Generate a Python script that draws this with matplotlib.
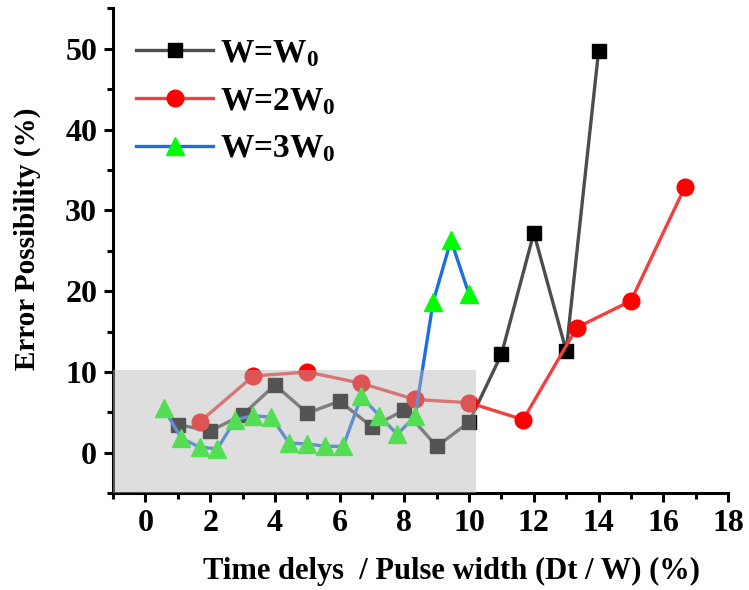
import matplotlib
matplotlib.use("Agg")
import matplotlib.pyplot as plt
from matplotlib.ticker import MultipleLocator
from matplotlib.patches import Rectangle

plt.rcParams['font.family'] = ['Liberation Serif', 'DejaVu Serif']
plt.rcParams['font.weight'] = 'bold'
plt.rcParams['mathtext.fontset'] = 'custom'
plt.rcParams['mathtext.rm'] = 'Liberation Serif:bold'
plt.rcParams['mathtext.bf'] = 'Liberation Serif:bold'

# W = W0
x1 = [1, 2, 3, 4, 5, 6, 7, 8, 9, 10, 11, 12, 13, 14]
y1 = [3.5, 2.7, 4.7, 8.4, 4.9, 6.4, 3.2, 5.3, 0.8, 3.8, 12.2, 27.2, 12.6, 49.7]

# W = 2W0
x2 = [1.67, 3.33, 5.0, 6.67, 8.33, 10.0, 11.67, 13.33, 15.0, 16.67]
y2 = [3.8, 9.5, 10.0, 8.6, 6.6, 6.2, 4.1, 15.5, 18.8, 32.9]

# W = 3W0
x3 = [0.56, 1.11, 1.67, 2.22, 2.78, 3.33, 3.89, 4.44, 5.0, 5.56, 6.11, 6.67,
      7.22, 7.78, 8.33, 8.89, 9.44, 10.0]
y3 = [5.5, 1.8, 0.7, 0.5, 4.1, 4.6, 4.4, 1.2, 1.1, 0.8, 0.8, 7.0,
      4.6, 2.3, 4.5, 18.7, 26.3, 19.6]

fig = plt.figure(figsize=(7.49, 5.90), dpi=100)
ax = fig.add_axes([0.151, 0.164, 0.821, 0.822])

ax.plot(x1, y1, color='#4d4d4d', lw=2.4, marker='s', ms=10,
        mfc='black', mec='black', label=r'W=W$\mathregular{_0}$')
ax.plot(x2, y2, color='#f04040', lw=2.4, marker='o', ms=12,
        mfc='red', mec='red', label=r'W=2W$\mathregular{_0}$')
ax.plot(x3, y3, color='#1c6fde', lw=2.4, marker='^', ms=13,
        mfc='#00ff00', mec='#00ff00', label=r'W=3W$\mathregular{_0}$')

# shaded low-error zone
ax.add_patch(Rectangle((-1, -5), 11.2, 15.3, facecolor='#b8b8b8',
                       alpha=0.46, edgecolor='none', zorder=5))

ax.set_xlim(-1, 18)
ax.set_ylim(-5, 55)
ax.xaxis.set_major_locator(MultipleLocator(2))
ax.xaxis.set_minor_locator(MultipleLocator(1))
ax.yaxis.set_major_locator(MultipleLocator(10))
ax.yaxis.set_minor_locator(MultipleLocator(5))

for s in ['top', 'right']:
    ax.spines[s].set_visible(False)
for s in ['left', 'bottom']:
    ax.spines[s].set_linewidth(2.2)
ax.tick_params(which='major', direction='out', length=6.5, width=2.2,
               labelsize=23, pad=5)
ax.tick_params(which='minor', direction='out', length=4, width=2.2)
for lab in ax.get_xticklabels() + ax.get_yticklabels():
    lab.set_fontweight('bold')

ax.set_xlabel('Time delys  / Pulse width (Dt / W) (%)', fontsize=22,
              fontweight='bold')
ax.set_ylabel('Error Possibility (%)', fontsize=21, fontweight='bold')
ax.xaxis.set_label_coords(0.551, -0.132)
ax.yaxis.set_label_coords(-0.117, 0.524)

leg = ax.legend(loc='upper left', bbox_to_anchor=(-0.003, 0.99),
                frameon=False, handlelength=2.3, borderaxespad=0.35,
                labelspacing=0.5, handletextpad=0.2,
                prop={'size': 24, 'weight': 'bold'})

fig.savefig('out.png', dpi=100)
